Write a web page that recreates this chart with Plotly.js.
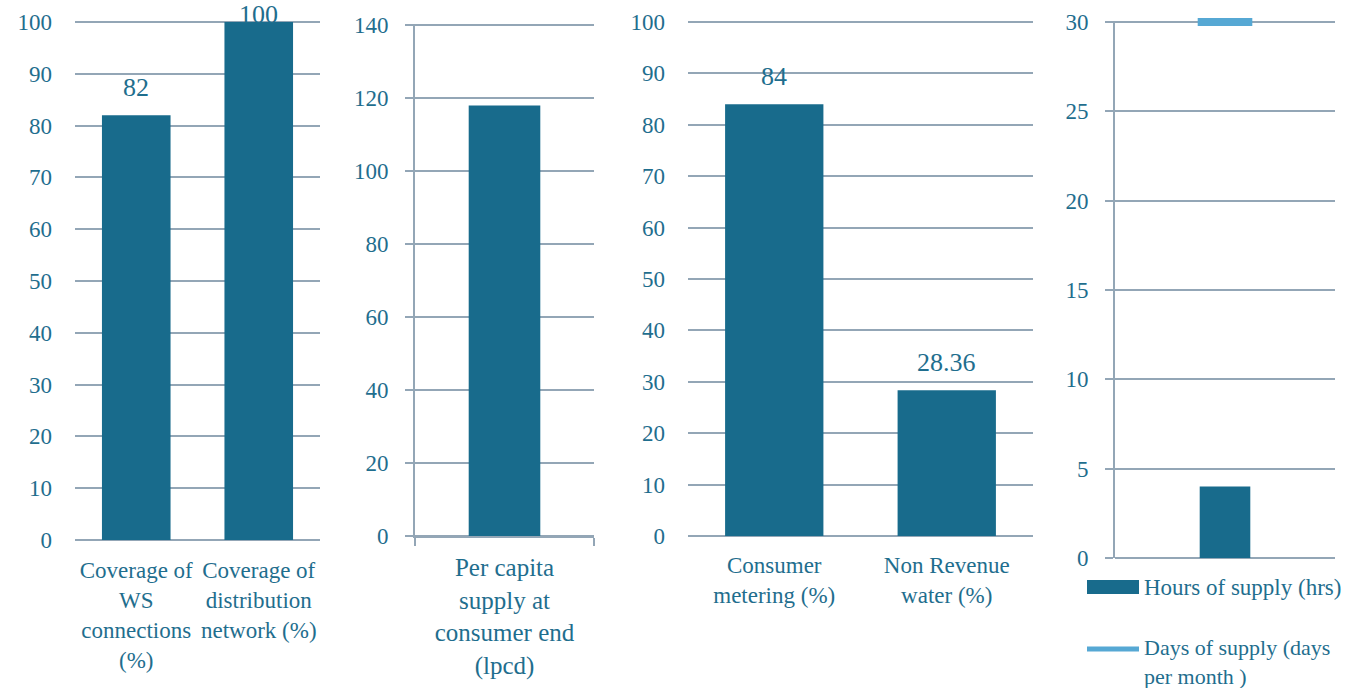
<!DOCTYPE html>
<html>
<head>
<meta charset="utf-8">
<script src="https://cdn.plot.ly/plotly-3.0.1.min.js"></script>
<style>html,body{margin:0;padding:0;background:#fff;}#chart{width:1348px;height:688px;}</style>
</head>
<body>
<div id="chart"></div>
<script>
// ---- data ----
const cat1 = ["Coverage of<br>WS<br>connections<br>(%)", "Coverage of<br>distribution<br>network (%)"];
const val1 = [82, 100];
const lbl1 = ["82", "100"];
const cat2 = ["Per capita<br>supply at<br>consumer end<br>(lpcd)"];
const val2 = [118];
const cat3 = ["Consumer<br>metering (%)", "Non Revenue<br>water (%)"];
const val3 = [84, 28.36];
const lbl3 = ["84", "28.36"];
const cat4 = ["Supply"];
const hoursSupply = [4];
const daysSupply = [30];
const legendNames = ["Hours of supply (hrs)", "Days of supply (days<br>per month )"];

// ---- style ----
const W = 1348, H = 688;
const dark = '#186B8C', light = '#56A8D4', txt = '#1F6E8E', grid = '#93A6B6';
const FONT = 'Liberation Serif, DejaVu Serif, serif';
const px = x => x / W, py = y => (H - y) / H;

const traces = [
  {type:'bar', x:cat1, y:val1, xaxis:'x', yaxis:'y', marker:{color:dark}, width:0.56, hoverinfo:'none'},
  {type:'bar', x:cat2, y:val2, xaxis:'x2', yaxis:'y2', marker:{color:dark}, width:0.40, hoverinfo:'none'},
  {type:'bar', x:cat3, y:val3, xaxis:'x3', yaxis:'y3', marker:{color:dark}, width:0.57, hoverinfo:'none'},
  {type:'bar', name:legendNames[0], x:cat4, y:hoursSupply, xaxis:'x4', yaxis:'y4', marker:{color:dark}, width:0.23, hoverinfo:'none'},
  {type:'scatter', mode:'markers', name:legendNames[1], x:cat4, y:daysSupply, xaxis:'x4', yaxis:'y4', cliponaxis:false,
   marker:{symbol:'line-ew', size:39, color:light, line:{color:light, width:8}}, hoverinfo:'none'}
];

function yax(dom, range, dtick, opts) {
  return Object.assign({domain:dom, range:range, dtick:dtick, tick0:0, showgrid:true, gridcolor:grid, gridwidth:2,
    zeroline:true, zerolinecolor:grid, zerolinewidth:2, showline:false, fixedrange:true,
    tickfont:{family:FONT, size:23, color:txt}, ticks:'', ticklabelstandoff:22}, opts||{});
}
function xax(dom, anchor, opts) {
  return Object.assign({domain:dom, anchor:anchor, showgrid:false, zeroline:false, showline:false, fixedrange:true,
    tickfont:{family:FONT, size:23, color:txt}, ticks:'', ticklabelstandoff:14}, opts||{});
}

// data labels as annotations (label sits lower when the bar reaches the top of the axis)
function labels(cats, vals, lbls, xref, yref, ymax) {
  return cats.map((c, i) => ({xref:xref, yref:yref, x:c, y:vals[i], text:lbls[i], showarrow:false,
    yanchor:'middle', yshift: vals[i] >= ymax ? 8 : 28, font:{family:FONT, size:26, color:txt}}));
}

const layout = {
  width:W, height:H, margin:{l:0, r:0, t:0, b:0}, paper_bgcolor:'#fff', plot_bgcolor:'#fff',
  showlegend:false, font:{family:FONT, color:txt},
  xaxis: xax([px(75), px(320)], 'y'),
  yaxis: yax([py(540), py(21)], [0, 100.2], 10, {anchor:'x'}),
  xaxis2: xax([px(415), px(594)], 'y2', {showline:true, linecolor:grid, linewidth:2, ticks:'outside', tickson:'boundaries',
    ticklen:8, tickcolor:grid, tickwidth:2, ticklabelstandoff:8, tickfont:{family:FONT, size:25, color:txt}}),
  yaxis2: yax([py(536), py(24)], [0, 140.3], 20, {anchor:'x2', showline:true, linecolor:grid, linewidth:2, ticks:'outside',
    ticklen:8, tickcolor:grid, tickwidth:2, ticklabelstandoff:12}),
  xaxis3: xax([px(688), px(1033)], 'y3', {ticklabelstandoff:13}),
  yaxis3: yax([py(536), py(21)], [0, 100.2], 10, {anchor:'x3', ticklabelstandoff:22}),
  xaxis4: xax([px(1115), px(1335)], 'y4', {showticklabels:false}),
  yaxis4: yax([py(558), py(21)], [0, 30.06], 5, {anchor:'x4', showline:true, linecolor:grid, linewidth:2, ticks:'outside',
    ticklen:8, tickcolor:grid, tickwidth:2, ticklabelstandoff:12}),
  shapes: [
    {type:'rect', xref:'paper', yref:'paper', x0:px(1087), x1:px(1139), y0:py(594), y1:py(580), fillcolor:dark, line:{width:0}},
    {type:'line', xref:'paper', yref:'paper', x0:px(1087), x1:px(1139), y0:py(649), y1:py(649), line:{color:light, width:5}}
  ],
  annotations: labels(cat1, val1, lbl1, 'x', 'y', 100)
    .concat(labels(cat3, val3, lbl3, 'x3', 'y3', 100))
    .concat([
    {xref:'paper', yref:'paper', x:px(1142), y:py(587), xanchor:'left', yanchor:'middle', showarrow:false, align:'left',
     text:legendNames[0], font:{family:FONT, size:23, color:txt}},
    {xref:'paper', yref:'paper', x:px(1142), y:py(633), xanchor:'left', yanchor:'top', showarrow:false, align:'left',
     text:legendNames[1], font:{family:FONT, size:22, color:txt}}
  ])
};

Plotly.newPlot('chart', traces, layout, {staticPlot:true, displayModeBar:false});
</script>
</body>
</html>
